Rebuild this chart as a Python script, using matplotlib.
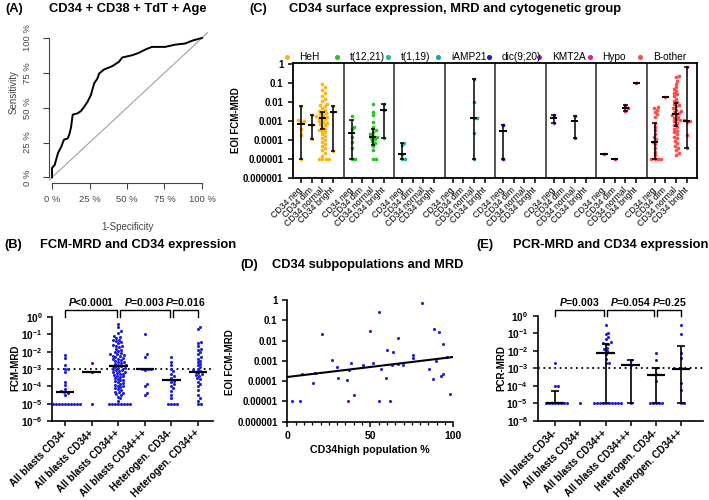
import numpy as np
import matplotlib
matplotlib.use('Agg')
import matplotlib.pyplot as plt
from matplotlib.ticker import MultipleLocator, NullLocator
import matplotlib.transforms as mtransforms

plt.rcParams['font.family'] = ['Liberation Sans', 'DejaVu Sans']
plt.rcParams['mathtext.fontset'] = 'custom'
plt.rcParams['mathtext.rm'] = 'Liberation Sans'
plt.rcParams['mathtext.it'] = 'Liberation Sans:italic'
plt.rcParams['mathtext.bf'] = 'Liberation Sans:bold'
plt.rcParams['mathtext.bfit'] = 'Liberation Sans:italic:bold'

nan = np.nan

# ---------------- (A) ROC curve ----------------
roc_fpr = [0, 0, 0.018, 0.04, 0.062, 0.079, 0.105, 0.116, 0.127, 0.138, 0.171, 0.193, 0.215, 0.237,
           0.259, 0.281, 0.303, 0.314, 0.347, 0.402, 0.446, 0.468, 0.534, 0.578, 0.622, 0.666,
           0.754, 0.82, 0.886, 0.941, 1.0]
roc_tpr = [0, 0.067, 0.09, 0.175, 0.22, 0.27, 0.28, 0.31, 0.36, 0.45, 0.46, 0.476, 0.507, 0.543,
           0.59, 0.674, 0.71, 0.745, 0.774, 0.798, 0.829, 0.86, 0.876, 0.893, 0.917, 0.936,
           0.936, 0.952, 0.96, 0.983, 1.0]
roc_ticks = [0, 0.25, 0.5, 0.75, 1.0]
roc_ticklabels = ['0 %', '25 %', '50 %', '75 %', '100 %']

# ---------------- (C) cytogenetic groups ----------------
groups = ['HeH', 't(12,21)', 't(1,19)', 'iAMP21', 'dic(9;20)', 'KMT2A', 'Hypo', 'B-other']
group_colors = ['#FDB515', '#22C91E', '#1DBE8C', '#18A2AE', '#1A1AE8', '#A925E8', '#EC1A8C', '#FF4D4D']
cd34_levels = ['CD34 neg', 'CD34 dim', 'CD34 normal', 'CD34 bright']

heh_vals = [[6e-3, 1.1e-3, 1.0e-3, 9e-4, 4e-4, 1.8e-4, 1e-5],
            [2.1e-3, 6.2e-4, 1.1e-4],
            [0.085, 0.06, 0.045, 0.03, 0.022, 0.015, 0.011, 0.008, 0.007, 0.006, 0.005, 0.004,
             0.0035, 0.003, 0.0026, 0.0022, 0.002, 0.0018, 0.0016, 0.0015, 0.0014, 0.0012, 0.001,
             0.0009, 0.0008, 0.0007, 0.0006, 0.0005, 0.0004, 0.00035, 0.0003, 0.00025, 0.0002,
             0.00016, 0.00013, 0.0001, 8e-5, 6e-5, 5e-5, 4e-5, 3e-5, 2e-5, 1.5e-5, 1e-5, 1e-5, 1e-5, 1e-5],
            [6e-3, 3.1e-3, 2.7e-5]]
heh_med = [7e-4, 6.2e-4, 1.4e-3, 3.1e-3]
heh_lo = [1e-5, 1.1e-4, 4e-4, 2.7e-5]
heh_hi = [6e-3, 2.1e-3, 3.1e-3, 6e-3]

t1221_vals = [[1.9e-3, 5e-4, 3.7e-4, 1.5e-4, 7.5e-5, 3.6e-5, 1e-5, 1e-5],
              [],
              [7.5e-3, 3.1e-3, 2e-3, 9e-4, 5e-4, 3.5e-4, 2.8e-4, 2e-4, 1.7e-4, 1.5e-4, 1.3e-4,
               1.1e-4, 9e-5, 7e-5, 5e-5, 3e-5, 1e-5, 1e-5],
              [7.5e-3, 3.8e-3, 1.2e-4]]
t1221_med = [2.2e-4, nan, 1.5e-4, 3.8e-3]
t1221_lo = [1e-5, nan, 5.5e-5, 1.2e-4]
t1221_hi = [1.1e-3, nan, 3.7e-4, 7.5e-3]

t119_vals = [[7.2e-5, 5.5e-5, 1.9e-5, 1e-5, 1e-5], [], [], []]
t119_med = [1.9e-5, nan, nan, nan]
t119_lo = [1e-5, nan, nan, nan]
t119_hi = [7.2e-5, nan, nan, nan]

iamp21_vals = [[], [], [0.155, 0.0104, 1.5e-3, 1.4e-3, 2.4e-4, 1e-5], []]
iamp21_med = [nan, nan, 1.4e-3, nan]
iamp21_lo = [nan, nan, 1e-5, nan]
iamp21_hi = [nan, nan, 0.155, nan]

dic920_vals = [[6.2e-4, 1e-5], [], [], []]
dic920_med = [3e-4, nan, nan, nan]
dic920_lo = [1e-5, nan, nan, nan]
dic920_hi = [6.2e-4, nan, nan, nan]

kmt2a_vals = [[2.1e-3, 7.5e-4], [], [1.9e-3, 1.2e-4], []]
kmt2a_med = [1.4e-3, nan, 1e-3, nan]
kmt2a_lo = [7.5e-4, nan, 1.2e-4, nan]
kmt2a_hi = [2.1e-3, nan, 1.9e-3, nan]

hypo_vals = [[1.9e-5], [1e-5], [6.9e-3, 4.6e-3, 3.5e-3], [0.096]]
hypo_med = [1.9e-5, 1e-5, 4.6e-3, 0.096]
hypo_lo = [nan, nan, 3.5e-3, nan]
hypo_hi = [nan, nan, 6.9e-3, nan]

bother_vals = [[5.6e-3, 4.6e-3, 3.8e-3, 2.9e-3, 2.2e-3, 1.7e-3, 7.5e-4, 5e-4, 3.4e-4, 2.1e-4,
                1.5e-4, 1.1e-4, 8.2e-5, 5.9e-5, 4e-5, 2.4e-5, 1.6e-5, 1e-5, 1e-5, 1e-5, 1e-5],
               [0.019],
               [0.24, 0.2, 0.13, 0.09, 0.06, 0.05, 0.04, 0.03, 0.025, 0.02, 0.015, 0.012, 0.01,
                0.008, 0.007, 0.006, 0.005, 0.004, 0.0035, 0.003, 0.0026, 0.0022, 0.002, 0.0017,
                0.0015, 0.0012, 0.001, 8e-4, 6e-4, 5e-4, 4e-4, 3e-4, 2.5e-4, 2e-4, 1.5e-4, 1.2e-4,
                9e-5, 7e-5, 5e-5, 4e-5, 3e-5, 2e-5, 1.6e-5],
               [0.72, 1.1e-3, 1.1e-3, 1e-3, 9e-4, 1.8e-4, 3.6e-5]]
bother_med = [7.5e-5, 0.019, 2.2e-3, 1e-3]
bother_lo = [1e-5, nan, 5.6e-4, 3.6e-5]
bother_hi = [7.5e-4, nan, 8.5e-3, 0.72]

c_vals = [heh_vals, t1221_vals, t119_vals, iamp21_vals, dic920_vals, kmt2a_vals, hypo_vals, bother_vals]
c_med = [heh_med, t1221_med, t119_med, iamp21_med, dic920_med, kmt2a_med, hypo_med, bother_med]
c_lo = [heh_lo, t1221_lo, t119_lo, iamp21_lo, dic920_lo, kmt2a_lo, hypo_lo, bother_lo]
c_hi = [heh_hi, t1221_hi, t119_hi, iamp21_hi, dic920_hi, kmt2a_hi, hypo_hi, bother_hi]

c_yticks = [1, 0.1, 0.01, 0.001, 0.0001, 0.00001, 0.000001]
c_yticklabels = ['1', '0.1', '0.01', '0.001', '0.0001', '0.00001', '0.000001']

# ---------------- (B) / (E) ----------------
mrd_categories = ['All blasts CD34-', 'All blasts CD34+', 'All blasts CD34++',
                  'All blasts CD34+++', 'Heterogen. CD34-', 'Heterogen. CD34++']
mrd_yticks = [1, 1e-1, 1e-2, 1e-3, 1e-4, 1e-5, 1e-6]
mrd_yticklabels = [r'$\mathbf{10^{0}}$', r'$\mathbf{10^{-1}}$', r'$\mathbf{10^{-2}}$', r'$\mathbf{10^{-3}}$',
                   r'$\mathbf{10^{-4}}$', r'$\mathbf{10^{-5}}$', r'$\mathbf{10^{-6}}$']
mrd_threshold = 1e-3

fcm_vals = [
    [6.6e-3, 4.2e-3, 1.7e-3, 1e-3, 1e-3, 6.6e-4, 1.8e-4, 1.2e-4, 7.3e-5, 5.6e-5, 4.7e-5, 4.1e-5,
     3.3e-5] + [1e-5] * 10,
    [2.2e-3, 6.3e-4, 1e-5],
    [0.4, 0.25, 0.15, 0.12,
     0.08, 0.07, 0.06, 0.05, 0.045, 0.04, 0.035, 0.03, 0.025, 0.022, 0.02, 0.018, 0.015, 0.013, 0.011,
     0.009, 0.008, 0.0075, 0.007, 0.0065, 0.006, 0.0055, 0.005, 0.0045, 0.004, 0.0037, 0.0033, 0.003,
     0.0027, 0.0024, 0.0022, 0.002, 0.0018, 0.0016, 0.0015, 0.0014, 0.0013, 0.0012, 0.0011, 0.001,
     9e-4, 8.5e-4, 8e-4, 7e-4, 6.5e-4, 6e-4, 5.5e-4, 5e-4, 4.5e-4, 4e-4, 3.7e-4, 3.3e-4, 3e-4,
     2.7e-4, 2.4e-4, 2.2e-4, 2e-4, 1.8e-4, 1.6e-4, 1.4e-4, 1.2e-4, 1.1e-4, 1e-4,
     9e-5, 8e-5, 7e-5, 6e-5, 5e-5, 4.5e-5, 4e-5, 3.5e-5, 3e-5, 2.5e-5, 2e-5, 1.5e-5] + [1e-5] * 8,
    [0.1, 7.2e-3, 5.2e-3, 1e-3, 1e-3, 1e-3, 9e-4, 1.35e-4, 1.1e-4, 3.9e-5, 3e-5],
    [5.2e-3, 2.7e-3, 1.6e-3, 1e-3, 7.2e-4, 5e-4, 3.7e-4, 3e-4, 2.1e-4, 1.8e-4, 1.35e-4, 1.1e-4,
     8e-5, 5.6e-5, 3.3e-5, 2.1e-5] + [1e-5] * 4,
    [0.26, 0.2, 0.035, 0.03, 0.02, 0.015, 0.012, 0.009, 0.007, 0.005, 0.004, 0.003, 0.0025, 0.002,
     0.0016, 0.0013, 0.001, 9e-4, 8e-4, 7e-4, 6e-4, 5e-4, 4.5e-4, 4e-4, 3e-4, 2.5e-4, 1.8e-4,
     1.3e-4, 1e-4, 6e-5, 3e-5, 2e-5, 1.5e-5, 1e-5, 1e-5],
]
fcm_med = [4.7e-5, 6.3e-4, 1.5e-3, 1e-3, 2.2e-4, 6.6e-4]
fcm_pvals = ['P<0.0001', 'P=0.003', 'P=0.016']

pcr_vals = [
    [1.9e-3, 1e-4, 1e-4] + [1e-5] * 8,
    [1e-5],
    [0.3, 0.1, 0.09, 0.06, 0.05, 0.03, 0.027, 0.025, 0.024, 0.015, 0.012, 0.01, 0.007, 3.5e-3,
     2e-3, 2e-3] + [1e-5] * 10,
    [3e-3, 1.5e-3, 1e-5],
    [8e-3, 3e-3, 1e-3, 5e-4, 1.9e-4] + [1e-5] * 5,
    [0.3, 0.09, 8e-3, 4e-3, 1e-3, 1.5e-4, 6e-5, 1e-5, 1e-5],
]
pcr_med = [1e-5, nan, 7.2e-3, 1.55e-3, 4.2e-4, 9.2e-4]
pcr_lo = [1e-5, nan, 1e-5, 1e-5, 1e-5, 1e-5]
pcr_hi = [5.4e-5, nan, 0.024, 3e-3, 1e-3, 0.02]
pcr_pvals = ['P=0.003', 'P=0.054', 'P=0.25']

# ---------------- (D) scatter ----------------
d_pct = [2.6, 7.6, 9.0, 15.7, 16.7, 21.1, 26.7, 30.1, 30.3, 35.7, 36.7, 37.3, 38.4, 40.4, 45.8,
         49.8, 51.8, 55.2, 55.4, 56.2, 59.4, 59.8, 61.8, 63.3, 63.9, 66.5, 66.7, 69.5, 75.5, 75.9,
         81.3, 85.5, 88.0, 88.4, 89.6, 91.2, 92.4, 93.6, 94.0, 96.0, 98.0]
d_mrd = [1e-5, 1e-5, 2.2e-4, 7.9e-5, 2.6e-4, 0.02, 1.1e-3, 5.2e-4, 1.4e-4, 1.15e-4, 1e-5, 3.5e-4,
         7.6e-4, 2.1e-5, 6.3e-4, 0.03, 8.2e-4, 0.25, 1e-5, 4e-4, 1.4e-4, 3.4e-3, 1e-5, 5.9e-4,
         2.6e-3, 0.014, 6.8e-4, 5.9e-4, 1.35e-3, 2e-3, 0.69, 3.8e-4, 1.3e-4, 0.037, 1e-3, 0.025,
         1.8e-4, 6.8e-3, 2.2e-4, 1.6e-3, 2.3e-5]
d_fit_x = [0, 100]
d_fit_y = [1.6e-4, 1.55e-3]

BLUE = '#1F1FE0'
W, H = 709, 500


def fx(x):
    return x / W


def fy(y):
    return 1 - y / H


def swarm_x(ax, xc, vals, d):
    # simple beeswarm in pixel space so that dots do not overlap
    vals = np.asarray(vals, float)
    pts = ax.transData.transform(np.column_stack([np.full(len(vals), xc), vals]))
    ys = pts[:, 1]
    offs = np.zeros(len(vals))
    placed = []
    for i in np.argsort(ys, kind='stable'):
        y = ys[i]
        cands = [0.0]
        for px_, py_ in placed:
            dy = y - py_
            if abs(dy) < d:
                dx = np.sqrt(d * d - dy * dy)
                cands += [px_ + dx, px_ - dx]
        cands.sort(key=abs)
        for c in cands:
            if all((c - px_) ** 2 + (y - py_) ** 2 >= d * d - 1e-6 for px_, py_ in placed):
                offs[i] = c
                break
        placed.append((offs[i], y))
    back = ax.transData.inverted().transform(np.column_stack([pts[:, 0] + offs, ys]))
    return back[:, 0]


fig = plt.figure(figsize=(7.09, 5.0), dpi=100)

TITLE = dict(fontsize=9.3, fontweight='bold', va='center', ha='left')

# ================= (A) =================
axA = fig.add_axes([fx(49), fy(183), 159 / W, 150.6 / H])
axA.plot([-0.1, 1.1], [-0.1, 1.1], color='#A0A0A0', lw=0.8)
axA.plot(roc_fpr, roc_tpr, color='black', lw=1.4)
axA.set_xlim(-0.02, 1.04)
axA.set_ylim(-0.04, 1.04)
for s in ['top', 'right']:
    axA.spines[s].set_visible(False)
for s in ['left', 'bottom']:
    axA.spines[s].set_bounds(0, 1)
    axA.spines[s].set_color('#444444')
    axA.spines[s].set_linewidth(0.8)
axA.set_xticks(roc_ticks)
axA.set_xticklabels(roc_ticklabels)
axA.set_yticks(roc_ticks)
axA.set_yticklabels(roc_ticklabels, rotation=90, va='center')
axA.tick_params(axis='both', length=4, width=0.8, color='#444444', labelsize=6.8, labelcolor='#444444')
axA.tick_params(axis='x', pad=5)
axA.tick_params(axis='y', pad=8)
fig.text(fx(128), fy(227), '1-Specificity', fontsize=7, color='#444444', ha='center', va='center')
fig.text(fx(14), fy(92), 'Sensitivity', fontsize=7, color='#444444', ha='center', va='center', rotation=90)
fig.text(fx(5), fy(9), '(A)', **TITLE)
fig.text(fx(128), fy(9), 'CD34 + CD38 + TdT + Age', fontsize=9.3, fontweight='bold', ha='center', va='center')

# ================= (C) =================
axC = fig.add_axes([fx(293), fy(178), 404 / W, 115 / H])
GW = 4.72
axC.set_yscale('log')
axC.set_ylim(1e-6, 1.13)
axC.set_xlim(0, 8 * GW)
cx_ticks, cx_labels = [], []
for g in range(8):
    for j in range(4):
        xc = g * GW + 0.75 + j
        cx_ticks.append(xc)
        cx_labels.append(cd34_levels[j])
        vals = c_vals[g][j]
        if len(vals):
            xs = swarm_x(axC, xc, vals, 3.3)
            axC.scatter(xs, vals, s=7, color=group_colors[g], linewidths=0, zorder=3)
        med = c_med[g][j]
        if not np.isnan(c_lo[g][j]):
            axC.vlines(xc, c_lo[g][j], c_hi[g][j], color='black', lw=1.1, zorder=4)
            axC.hlines([c_lo[g][j], c_hi[g][j]], xc - 0.2, xc + 0.2, color='black', lw=1.1, zorder=4)
        if not np.isnan(med):
            axC.hlines(med, xc - 0.33, xc + 0.33, color='black', lw=1.4, zorder=4)
for g in range(1, 8):
    axC.axvline(g * GW, color='#3a3a3a', lw=1.2)
for s in axC.spines.values():
    s.set_linewidth(1.3)
axC.set_xticks(cx_ticks)
axC.set_xticklabels(cx_labels, rotation=45, ha='right', va='center', rotation_mode='anchor', fontsize=6.3)
axC.set_yticks(c_yticks)
axC.set_yticklabels(c_yticklabels, fontsize=7, fontweight='bold')
axC.yaxis.set_minor_locator(NullLocator())
axC.tick_params(axis='both', length=3.5, width=1.1)
axC.tick_params(axis='x', pad=4)
# legend row above the panel, one entry per cytogenetic group
trC = mtransforms.blended_transform_factory(axC.transData, axC.transAxes)
for g in range(8):
    axC.scatter([g * GW - 0.58], [1.052], s=7, color=group_colors[g], transform=trC, clip_on=False)
    axC.text(g * GW + 0.6, 1.052, groups[g], transform=trC, fontsize=7.3, va='center', ha='left')
fig.text(fx(236), fy(120), 'EOI FCM-MRD', fontsize=7, fontweight='bold', rotation=90, ha='center', va='center')
fig.text(fx(249), fy(9), '(C)', **TITLE)
fig.text(fx(289), fy(9), 'CD34 surface expression, MRD and cytogenetic group', **TITLE)


# ================= (B) and (E) =================
def mrd_panel(ax, vals, med, lo, hi, pvals, xlim, half, br_y, txt_y, capw):
    ax.set_yscale('log')
    ax.set_ylim(1e-6, 1)
    ax.set_xlim(*xlim)
    for i, v in enumerate(vals):
        xs = swarm_x(ax, i, v, 3.0)
        ax.scatter(xs, v, s=5, color=BLUE, linewidths=0, zorder=3)
    for i in range(len(vals)):
        if lo is not None and not np.isnan(lo[i]):
            ax.vlines(i, lo[i], hi[i], color='black', lw=1.2, zorder=4)
            ax.hlines([lo[i], hi[i]], i - capw, i + capw, color='black', lw=1.2, zorder=4)
        if not np.isnan(med[i]):
            ax.hlines(med[i], i - half, i + half, color='black', lw=1.6, zorder=4)
    ax.axhline(mrd_threshold, color='black', ls=(0, (1, 2)), lw=1.3, zorder=2)
    for s in ['top', 'right']:
        ax.spines[s].set_visible(False)
    for s in ['left', 'bottom']:
        ax.spines[s].set_linewidth(1.2)
    ax.set_yticks(mrd_yticks)
    ax.set_yticklabels(mrd_yticklabels, fontsize=7.3)
    ax.yaxis.set_minor_locator(NullLocator())
    ax.set_xticks(range(len(mrd_categories)))
    ax.set_xticklabels(mrd_categories, rotation=45, ha='right', va='center', rotation_mode='anchor',
                       fontsize=7.1, fontweight='bold')
    ax.tick_params(axis='both', length=3.5, width=1.1)
    ax.tick_params(axis='x', pad=4)
    # significance brackets
    spans = [(0, 2 - 0.05), (2 + 0.05, 4 - 0.06), (4 + 0.06, 5)]
    for (a, b), p in zip(spans, pvals):
        ax.plot([a, a, b, b], [1.0, br_y, br_y, 1.0], color='black', lw=1.0, clip_on=False)
        ax.text((a + b) / 2, txt_y, r'$\mathbfit{P}$' + p[1:], ha='center', va='center',
                fontsize=7.5, fontweight='bold', clip_on=False)


axB = fig.add_axes([fx(52.3), fy(421), 160.4 / W, 104 / H])
mrd_panel(axB, fcm_vals, fcm_med, None, None, fcm_pvals, (-0.48, 5.55), 0.35, 2.5, 7.3, 0.15)
fig.text(fx(15), fy(368), 'FCM-MRD', fontsize=7, fontweight='bold', rotation=90, ha='center', va='center')
fig.text(fx(4), fy(245), '(B)', **TITLE)
fig.text(fx(40), fy(245), 'FCM-MRD and CD34 expression', **TITLE)

axE = fig.add_axes([fx(537.5), fy(421), 165 / W, 105.3 / H])
mrd_panel(axE, pcr_vals, pcr_med, pcr_lo, pcr_hi, pcr_pvals, (-0.7, 5.85), 0.37, 2.1, 6.3, 0.15)
fig.text(fx(501), fy(368), 'PCR-MRD', fontsize=7, fontweight='bold', rotation=90, ha='center', va='center')
fig.text(fx(476), fy(245), '(E)', **TITLE)
fig.text(fx(513), fy(245), 'PCR-MRD and CD34 expression', **TITLE)

# ================= (D) =================
axD = fig.add_axes([fx(287.3), fy(421.7), 166 / W, 121.7 / H])
axD.set_yscale('log')
axD.set_ylim(1e-6, 1)
axD.set_xlim(0, 100)
axD.scatter(d_pct, d_mrd, s=5, color=BLUE, linewidths=0, zorder=3)
axD.plot(d_fit_x, d_fit_y, color='black', lw=1.5, zorder=4)
for s in ['top', 'right']:
    axD.spines[s].set_visible(False)
for s in ['left', 'bottom']:
    axD.spines[s].set_linewidth(1.2)
axD.set_yticks(c_yticks)
axD.set_yticklabels(c_yticklabels, fontsize=7, fontweight='bold')
axD.yaxis.set_minor_locator(NullLocator())
axD.set_xticks([0, 50, 100])
axD.set_xticklabels(['0', '50', '100'], fontsize=7.5, fontweight='bold')
axD.xaxis.set_minor_locator(MultipleLocator(5))
axD.tick_params(axis='both', which='major', length=3.5, width=1.1)
axD.tick_params(axis='x', which='minor', length=2, width=0.9)
fig.text(fx(370), fy(450), 'CD34high population %', fontsize=7.7, fontweight='bold', ha='center', va='center')
fig.text(fx(230), fy(362), 'EOI FCM-MRD', fontsize=7, fontweight='bold', rotation=90, ha='center', va='center')
fig.text(fx(240), fy(265), '(D)', **TITLE)
fig.text(fx(272), fy(265), 'CD34 subpopulations and MRD', **TITLE)

fig.savefig('out.png', dpi=100)
